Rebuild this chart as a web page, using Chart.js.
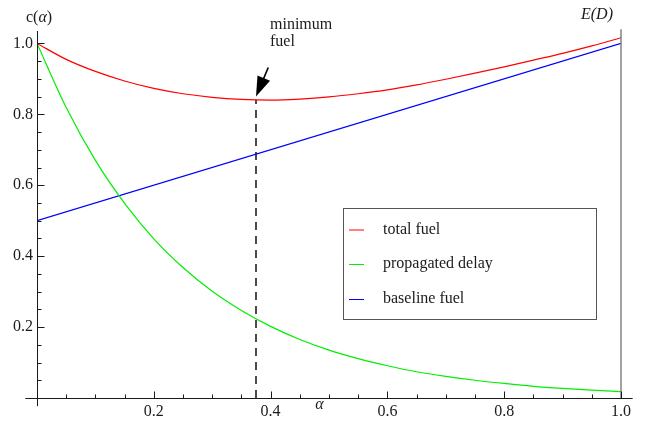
<!DOCTYPE html>
<html>
<head>
<meta charset="utf-8">
<script src="https://cdn.jsdelivr.net/npm/chart.js@4.4.1/dist/chart.umd.min.js"></script>
<style>
  html, body { margin: 0; padding: 0; background: #fff; }
  #chart { display: block; }
</style>
</head>
<body>
<canvas id="chart" width="650" height="421"></canvas>
<script>
// values
const alphaSteps = [0, 0.05, 0.1, 0.15, 0.2, 0.25, 0.3, 0.35, 0.4, 0.45, 0.5,
                    0.55, 0.6, 0.65, 0.7, 0.75, 0.8, 0.85, 0.9, 0.95, 1.0];
const totalFuel = [1.000, 0.955, 0.921, 0.894, 0.873, 0.858, 0.848, 0.842, 0.840, 0.843, 0.849,
                   0.858, 0.869, 0.883, 0.899, 0.916, 0.934, 0.953, 0.972, 0.993, 1.016];
const propagatedDelay = [1.000, 0.819, 0.670, 0.549, 0.449, 0.368, 0.301, 0.247, 0.202, 0.165, 0.135,
                         0.111, 0.091, 0.074, 0.061, 0.050, 0.041, 0.033, 0.027, 0.022, 0.018];
const baselineAlpha = [0, 1];
const baselineFuel = [0.5, 1.0];
const minimumAlpha = 0.375;
const minimumLevels = [0, 0.841];

const xTickValues = [0.2, 0.4, 0.6, 0.8, 1.0];
const xTickLabels = ['0.2', '0.4', '0.6', '0.8', '1.0'];
const yTickValues = [0.2, 0.4, 0.6, 0.8, 1.0];
const yTickLabels = ['0.2', '0.4', '0.6', '0.8', '1.0'];
const minorStep = 0.05;

const SERIF = '"Liberation Serif", "DejaVu Serif", serif';
const INK = '#1a1a1a';

const toPoints = (xs, ys) => xs.map((x, i) => ({ x, y: ys[i] }));

// axes, labels, legend and arrow note drawn over the chart area
const mathAxesPlugin = {
    id: 'mathAxes',
    afterDraw(chart) {
        const { ctx } = chart;
        const px = v => chart.scales.x.getPixelForValue(v);
        const py = v => chart.scales.y.getPixelForValue(v);
        const snap = v => Math.round(v) + 0.5;

        ctx.save();
        ctx.lineWidth = 1;
        ctx.strokeStyle = INK;

        const x0 = snap(px(0));
        const y0 = snap(py(0));

        // axis lines
        ctx.beginPath();
        ctx.moveTo(px(-0.02), y0);
        ctx.lineTo(px(1.02), y0);
        ctx.moveTo(x0, py(1.035));
        ctx.lineTo(x0, py(-0.023));
        ctx.stroke();

        // right frame line at alpha = 1
        ctx.strokeStyle = '#7a7a7a';
        ctx.lineWidth = 1.4;
        ctx.beginPath();
        ctx.moveTo(px(1), py(1.04));
        ctx.lineTo(px(1), py(0));
        ctx.stroke();

        // ticks, pointing inwards
        ctx.strokeStyle = INK;
        ctx.lineWidth = 1;
        ctx.beginPath();
        for (let i = 1; i <= 20; i++) {
            const v = i * minorStep;
            const major = i % 4 === 0;
            const len = major ? 7 : 4;
            const tx = snap(px(v));
            ctx.moveTo(tx, y0);
            ctx.lineTo(tx, y0 - len);
            const ty = snap(py(v));
            ctx.moveTo(x0, ty);
            ctx.lineTo(x0 + len, ty);
        }
        ctx.stroke();

        ctx.fillStyle = INK;
        ctx.font = '16px ' + SERIF;

        // tick labels
        ctx.textAlign = 'center';
        ctx.textBaseline = 'middle';
        xTickValues.forEach((v, i) => ctx.fillText(xTickLabels[i], px(v), 412));
        ctx.textAlign = 'right';
        yTickValues.forEach((v, i) => ctx.fillText(yTickLabels[i], 33, py(v)));

        // axis titles
        ctx.textAlign = 'left';
        ctx.fillText('c(', 26, 18);
        const cw = ctx.measureText('c(').width;
        ctx.font = 'italic 16px ' + SERIF;
        ctx.fillText('\u03b1', 26 + cw, 18);
        const aw = ctx.measureText('\u03b1').width;
        ctx.font = '16px ' + SERIF;
        ctx.fillText(')', 26 + cw + aw, 18);

        ctx.font = 'italic 16px ' + SERIF;
        ctx.fillText('E(D)', 581, 15);
        ctx.textAlign = 'center';
        ctx.fillText('\u03b1', 319.5, 405);

        // minimum note and arrow
        ctx.font = '16px ' + SERIF;
        ctx.textAlign = 'left';
        ctx.fillText('minimum', 270, 25);
        ctx.fillText('fuel', 270, 42);

        const tipX = px(minimumAlpha), tipY = py(0.85);
        const tailX = px(0.396), tailY = py(0.932);
        const dx = tipX - tailX, dy = tipY - tailY;
        const len = Math.hypot(dx, dy);
        const ux = dx / len, uy = dy / len;
        const headLen = 20, headHalf = 6.8;
        const bx = tipX - ux * headLen, by = tipY - uy * headLen;
        ctx.strokeStyle = '#000';
        ctx.lineWidth = 1.6;
        ctx.beginPath();
        ctx.moveTo(tailX, tailY);
        ctx.lineTo(bx + ux * 3, by + uy * 3);
        ctx.stroke();
        ctx.fillStyle = '#000';
        ctx.beginPath();
        ctx.moveTo(tipX, tipY);
        ctx.lineTo(bx - uy * headHalf, by + ux * headHalf);
        ctx.lineTo(bx + uy * headHalf, by - ux * headHalf);
        ctx.closePath();
        ctx.fill();

        // legend box
        ctx.strokeStyle = '#555';
        ctx.lineWidth = 1;
        ctx.strokeRect(343.5, 208.5, 253, 111);
        const rows = [229.5, 264, 299];
        ctx.font = '16px ' + SERIF;
        ctx.fillStyle = INK;
        ctx.textBaseline = 'middle';
        chart.data.datasets.slice(0, 3).forEach((ds, i) => {
            ctx.strokeStyle = ds.borderColor;
            ctx.beginPath();
            ctx.moveTo(349, rows[i] + 0.5);
            ctx.lineTo(364, rows[i] + 0.5);
            ctx.stroke();
            ctx.fillText(ds.label, 383, rows[i]);
        });

        ctx.restore();
    }
};

new Chart(document.getElementById('chart'), {
    type: 'line',
    data: {
        datasets: [
            {
                label: 'total fuel',
                data: toPoints(alphaSteps, totalFuel),
                borderColor: '#ff0000',
                borderWidth: 1.2,
                pointRadius: 0,
                cubicInterpolationMode: 'monotone'
            },
            {
                label: 'propagated delay',
                data: toPoints(alphaSteps, propagatedDelay),
                borderColor: '#00ee00',
                borderWidth: 1.2,
                pointRadius: 0,
                cubicInterpolationMode: 'monotone'
            },
            {
                label: 'baseline fuel',
                data: toPoints(baselineAlpha, baselineFuel),
                borderColor: '#0000ff',
                borderWidth: 1.2,
                pointRadius: 0
            },
            {
                label: 'minimum',
                data: minimumLevels.map(y => ({ x: minimumAlpha, y })),
                borderColor: '#000',
                borderWidth: 1.4,
                borderDash: [8, 6],
                pointRadius: 0
            }
        ]
    },
    options: {
        responsive: false,
        animation: false,
        layout: { padding: { left: 37, right: 29, top: 31, bottom: 23 } },
        plugins: {
            legend: { display: false },
            tooltip: { enabled: false }
        },
        scales: {
            x: { type: 'linear', min: 0, max: 1, display: false },
            y: { type: 'linear', min: 0, max: 1.035, display: false }
        }
    },
    plugins: [mathAxesPlugin]
});
</script>
</body>
</html>
